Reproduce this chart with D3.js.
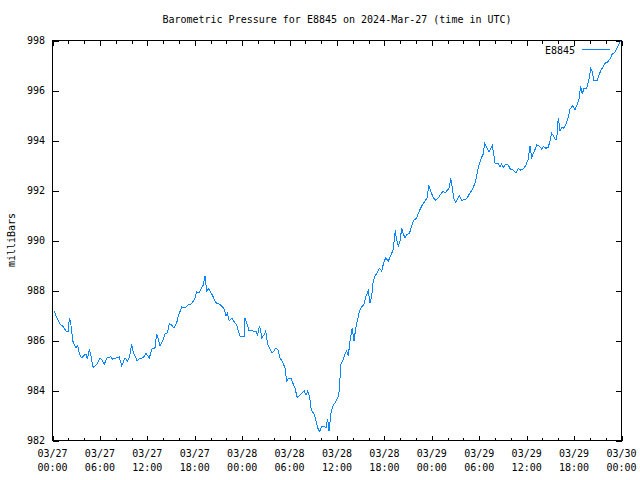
<!DOCTYPE html>
<html>
<head>
<meta charset="utf-8">
<script src="https://cdn.jsdelivr.net/npm/d3@7"></script>
<style>
  body { margin: 0; background: #fff; }
  svg { display: block; }
  text { font-family: "DejaVu Sans Mono", "Liberation Mono", monospace; font-size: 10px; fill: #000; }
</style>
</head>
<body>
<script>
// ---- data (hours since 2024-03-27 00:00 UTC, pressure in millibars) ----
const titleText = "Barometric Pressure for E8845 on 2024-Mar-27 (time in UTC)";
const yLabel = "milliBars";
const seriesName = "E8845";
const startTime = Date.UTC(2024, 2, 27, 0, 0);
const hours = [0.23,0.53,0.95,1.37,1.71,2.00,2.13,2.30,2.43,2.56,2.72,2.97,3.19,3.39,3.69,3.90,4.24,4.40,4.66,4.83,4.96,5.16,5.59,6.01,6.30,6.55,6.86,7.36,7.62,7.91,8.45,8.76,9.17,9.46,9.72,10.02,10.22,10.73,11.07,11.49,11.83,12.25,12.55,12.97,13.18,13.39,13.60,13.89,14.23,14.53,14.78,15.08,15.37,15.72,15.92,16.35,16.77,17.18,17.61,17.82,18.03,18.25,18.54,18.88,19.08,19.30,19.51,19.71,20.06,20.35,20.65,21.07,21.41,21.74,21.95,22.12,22.37,22.68,23.00,23.31,23.51,23.73,24.27,24.36,24.57,24.86,25.41,25.75,25.96,26.17,26.34,26.47,26.76,26.98,27.23,27.52,27.74,27.94,28.24,28.50,28.79,29.08,29.42,29.63,29.84,30.18,30.47,30.68,30.98,31.32,31.61,31.86,32.08,32.29,32.46,32.58,32.71,32.87,33.13,33.30,33.43,33.63,33.81,34.06,34.39,34.61,34.82,34.99,35.24,35.53,35.75,35.96,36.16,36.29,36.38,36.47,36.72,37.01,37.23,37.43,37.64,37.86,37.93,38.15,38.37,38.57,38.82,39.13,39.42,39.67,39.96,40.18,40.39,40.59,40.81,41.10,41.35,41.66,41.86,42.16,42.49,42.79,43.12,43.38,43.50,43.76,43.97,44.19,44.39,44.60,44.89,45.15,45.45,45.65,46.08,46.41,46.72,47.13,47.43,47.60,47.77,48.18,48.49,48.82,49.12,49.45,49.67,49.88,50.21,50.39,50.55,50.80,51.02,51.27,51.47,51.78,52.20,52.49,52.83,53.17,53.46,53.68,53.88,54.31,54.51,54.69,54.94,55.23,55.45,55.65,55.87,55.99,56.41,56.62,56.84,57.04,57.38,57.67,57.98,58.31,58.65,58.94,59.24,59.57,59.91,60.20,60.42,60.63,60.93,61.27,61.60,61.90,62.10,62.44,62.74,62.95,63.17,63.37,63.58,63.80,64.00,64.22,64.43,64.72,64.98,65.27,65.48,65.82,66.11,66.33,66.62,66.83,67.04,67.25,67.60,67.89,68.10,68.30,68.52,68.94,69.19,69.49,69.91,70.20,70.54,70.83,71.17,71.39,71.68,71.90];
const pressure = [987.18,986.91,986.67,986.54,986.38,986.35,986.89,986.71,986.38,985.98,985.87,985.71,985.78,985.47,985.31,985.38,985.47,985.25,985.65,985.45,985.21,984.91,985.05,985.29,985.21,985.05,985.29,985.35,985.25,985.29,985.34,984.98,985.31,985.18,985.31,985.87,985.51,985.18,985.29,985.31,985.49,985.29,985.65,985.71,986.27,986.05,985.78,985.95,986.25,986.31,986.67,986.62,986.49,986.71,986.98,987.34,987.31,987.42,987.47,987.58,987.69,987.95,987.91,988.11,988.22,988.58,987.98,988.09,987.91,987.74,987.51,987.47,987.38,987.25,986.98,987.09,986.78,986.89,986.75,986.62,986.38,986.18,986.18,986.89,986.71,986.41,986.38,986.38,986.22,986.58,986.41,986.11,986.22,986.38,985.85,985.65,985.51,985.54,985.69,985.65,985.31,985.15,984.91,984.38,984.49,984.49,984.25,984.09,983.71,983.82,983.91,983.98,983.82,983.97,983.82,983.65,983.31,983.15,983.05,982.85,982.65,982.45,982.35,982.55,982.58,982.51,982.87,982.38,983.11,983.41,983.51,983.61,983.78,983.98,984.51,985.05,985.18,985.45,985.58,985.38,985.98,986.38,986.49,985.98,986.49,986.78,987.15,987.34,987.45,987.78,987.98,987.51,987.78,988.38,988.58,988.71,988.89,988.78,989.05,989.31,989.18,989.38,989.65,990.41,990.11,989.78,989.98,990.49,990.27,990.11,990.25,990.27,990.58,990.78,990.91,991.18,991.38,991.58,991.71,992.22,992.05,991.71,991.61,991.71,991.85,991.98,991.91,991.98,992.11,992.49,992.18,991.65,991.51,991.69,991.78,991.61,991.63,991.71,991.91,992.05,992.31,992.58,992.93,993.33,993.46,993.89,993.73,993.53,993.66,993.79,993.39,993.10,993.10,992.93,993.06,992.93,993.06,993.02,992.83,992.82,992.70,992.89,992.82,992.86,993.02,993.26,993.79,993.33,993.53,993.82,993.77,993.66,993.77,993.69,993.73,993.99,994.29,994.19,994.06,994.06,994.90,994.39,994.53,994.49,994.66,994.93,995.26,995.39,995.23,995.39,995.66,996.19,995.86,996.09,996.09,996.46,996.89,996.75,996.39,996.39,996.66,996.86,997.09,997.13,997.26,997.46,997.53,997.66,997.86,997.99];
const yTicks = [982, 984, 986, 988, 990, 992, 994, 996, 998];
const xMajorHours = [0, 6, 12, 18, 24, 30, 36, 42, 48, 54, 60, 66, 72];
const xMinorHours = [2, 4, 8, 10, 14, 16, 20, 22, 26, 28, 32, 34, 38, 40, 44, 46, 50, 52, 56, 58, 62, 64, 68, 70];

const W = 640, H = 480;
const L = 52, R = 621, T = 40, B = 440;
const lineColor = "#0a84ff";

const toDate = h => new Date(startTime + h * 3600000);
const data = hours.map((h, i) => ({ t: toDate(h), v: pressure[i] }));

const svg = d3.select("body").append("svg").attr("width", W).attr("height", H);
const g = svg.append("g").attr("transform", "translate(0.5,0.5)");

const x = d3.scaleUtc().domain([toDate(0), toDate(72)]).range([L, R]);
const y = d3.scaleLinear().domain([982, 998]).range([B, T]);

const fmtDay = d3.utcFormat("%m/%d"), fmtHM = d3.utcFormat("%H:%M");

const xAxisB = d3.axisBottom(x).tickValues(xMajorHours.map(toDate)).tickSizeInner(-5).tickSizeOuter(0).tickFormat("");
const gxb = g.append("g").attr("transform", `translate(0,${B})`).call(xAxisB);
const xAxisBm = d3.axisBottom(x).tickValues(xMinorHours.map(toDate)).tickSizeInner(-3).tickSizeOuter(0).tickFormat("");
const gxbm = g.append("g").attr("transform", `translate(0,${B})`).call(xAxisBm);
const xAxisT = d3.axisTop(x).tickValues(xMajorHours.map(toDate)).tickSizeInner(-5).tickSizeOuter(0).tickFormat("");
const gxt = g.append("g").attr("transform", `translate(0,${T})`).call(xAxisT);
const xAxisTm = d3.axisTop(x).tickValues(xMinorHours.map(toDate)).tickSizeInner(-3).tickSizeOuter(0).tickFormat("");
const gxtm = g.append("g").attr("transform", `translate(0,${T})`).call(xAxisTm);
const yAxisL = d3.axisLeft(y).tickValues(yTicks).tickSizeInner(-6).tickSizeOuter(0).tickFormat("");
const gyl = g.append("g").attr("transform", `translate(${L},0)`).call(yAxisL);
const yAxisR = d3.axisRight(y).tickValues(yTicks).tickSizeInner(-6).tickSizeOuter(0).tickFormat("");
const gyr = g.append("g").attr("transform", `translate(${R},0)`).call(yAxisR);

[gxb, gxbm, gxt, gxtm, gyl, gyr].forEach(a => {
  a.selectAll(".domain").remove();
  a.selectAll("line").attr("stroke", "#000").attr("shape-rendering", "crispEdges");
});

g.append("rect").attr("x", L).attr("y", T).attr("width", R - L).attr("height", B - T)
  .attr("fill", "none").attr("stroke", "#000").attr("shape-rendering", "crispEdges");

svg.append("g").selectAll("text").data(yTicks).join("text")
  .attr("x", 45).attr("y", d => y(d) + 4)
  .attr("text-anchor", "end").text(d => d);

const xl = svg.append("g").selectAll("text").data(xMajorHours).join("text")
  .attr("text-anchor", "middle");
xl.append("tspan").attr("x", d => x(toDate(d)) + 0.5).attr("y", 457).text(d => fmtDay(toDate(d)));
xl.append("tspan").attr("x", d => x(toDate(d)) + 0.5).attr("y", 471).text(d => fmtHM(toDate(d)));

svg.append("text").attr("x", 337).attr("y", 23).attr("text-anchor", "middle").text(titleText);

svg.append("text").attr("transform", "translate(15,240) rotate(-90)").attr("text-anchor", "middle").text(yLabel);

const line = d3.line().x(d => x(d.t)).y(d => y(d.v));
g.append("path").datum(data).attr("d", line)
  .attr("fill", "none").attr("stroke", lineColor).attr("stroke-width", 1)
  .attr("shape-rendering", "crispEdges");

svg.append("text").attr("x", 575).attr("y", 54).attr("text-anchor", "end").text(seriesName);
g.append("line").attr("x1", 581).attr("x2", 609).attr("y1", 49).attr("y2", 49)
  .attr("stroke", lineColor).attr("stroke-width", 1).attr("shape-rendering", "crispEdges");
</script>
</body>
</html>
